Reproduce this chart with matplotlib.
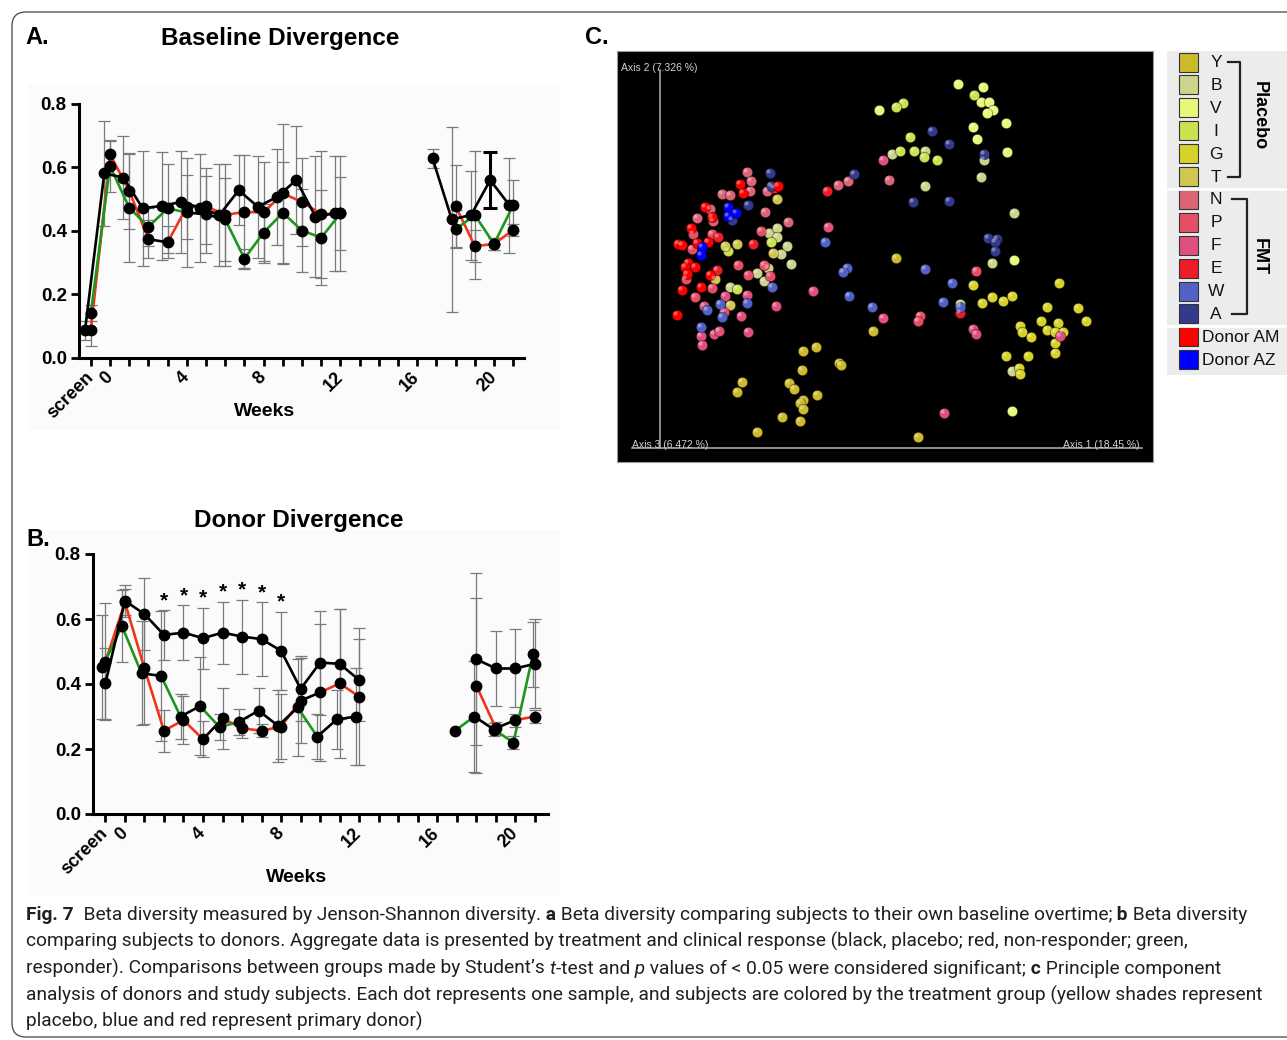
import numpy as np
import matplotlib.pyplot as plt
from matplotlib.patches import Rectangle, FancyBboxPatch
from matplotlib.collections import LineCollection
from matplotlib.transforms import IdentityTransform

nan = np.nan
W, H = 1287, 1040

plt.rcParams['font.family'] = ['Liberation Sans', 'DejaVu Sans']

# time axis (weeks)
weeks = list(range(-1, 13))
late_weeks = [17, 18, 19, 20, 21]
tick_weeks = list(range(-1, 22))
tick_names = {-1: 'screen', 0: '0', 4: '4', 8: '8', 12: '12', 16: '16', 20: '20'}
y_ticks = [0.0, 0.2, 0.4, 0.6, 0.8]

# A. Baseline divergence
a_placebo = [0.087, 0.580, 0.567, 0.470, 0.478, 0.490, 0.472, 0.449, 0.527, 0.475, 0.506, 0.559, 0.444, 0.454]
a_placebo_err = [0.03, 0.165, 0.13, 0.18, 0.17, 0.16, 0.17, 0.16, 0.11, 0.16, 0.15, 0.17, 0.19, 0.18]
a_nonresp = [0.087, 0.640, 0.525, 0.373, 0.363, 0.475, 0.477, 0.449, 0.459, 0.457, 0.517, 0.490, 0.452, 0.454]
a_nonresp_err = [0.05, 0.045, 0.12, 0.06, 0.05, 0.10, 0.12, 0.16, 0.18, 0.16, 0.22, 0.14, 0.20, 0.115]
a_resp = [0.140, 0.603, 0.472, 0.412, 0.470, 0.457, 0.451, 0.435, 0.312, 0.394, 0.456, 0.400, 0.378, 0.454]
a_resp_err = [0.025, 0.08, 0.17, 0.06, 0.14, 0.17, 0.12, 0.13, 0.03, 0.09, 0.16, 0.13, 0.15, 0.18]

a_placebo_late = [0.627, 0.435, 0.449, 0.559, 0.480]
a_placebo_late_err = [0.031, 0.29, 0.14, 0.087, 0.15]
a_nonresp_late = [nan, 0.477, 0.351, 0.358, 0.402]
a_nonresp_late_err = [nan, 0.13, 0.05, 0.02, 0.02]
a_resp_late = [nan, 0.404, 0.449, 0.358, 0.480]
a_resp_late_err = [nan, 0.06, 0.20, 0.02, 0.08]

# B. Donor divergence
b_placebo = [0.402, 0.656, 0.615, 0.551, 0.558, 0.541, 0.558, 0.546, 0.538, 0.502, 0.385, 0.466, 0.462, 0.412]
b_placebo_err = [0.11, 0.05, 0.11, 0.077, 0.085, 0.094, 0.095, 0.114, 0.113, 0.121, 0.10, 0.16, 0.17, 0.125]
b_nonresp = [0.469, 0.651, 0.448, 0.256, 0.289, 0.230, 0.294, 0.264, 0.256, 0.269, 0.349, 0.374, 0.402, 0.361]
b_nonresp_err = [0.18, 0.04, 0.17, 0.065, 0.075, 0.055, 0.095, 0.03, 0.02, 0.10, 0.13, 0.21, 0.23, 0.21]
b_resp = [0.453, 0.578, 0.433, 0.425, 0.300, 0.332, 0.267, 0.284, 0.318, 0.271, 0.328, 0.238, 0.291, 0.300]
b_resp_err = [0.16, 0.11, 0.16, 0.20, 0.07, 0.15, 0.04, 0.04, 0.07, 0.11, 0.15, 0.07, 0.09, 0.15]

b_placebo_late = [nan, 0.476, 0.448, 0.448, 0.462]
b_placebo_late_err = [nan, 0.265, 0.116, 0.12, 0.137]
b_nonresp_late = [nan, 0.395, 0.264, 0.289, 0.300]
b_nonresp_late_err = [nan, 0.27, 0.02, 0.02, 0.02]
b_resp_late = [0.256, 0.300, 0.260, 0.220, 0.491]
b_resp_late_err = [nan, 0.17, 0.02, 0.02, 0.10]

b_sig_weeks = [2, 3, 4, 5, 6, 7, 8]

# C. PCoA (axis 1 / axis 2 scores)
Y_x = [0.143, 0.156, 0.179, 0.181, 0.142, 0.082, 0.077, 0.129, 0.134, 0.157, 0.143, 0.140, 0.143, 0.122, 0.140, 0.097, 0.213, 0.258, 0.236]
Y_y = [0.097, 0.101, 0.085, 0.083, 0.078, 0.066, 0.056, 0.065, 0.059, 0.053, 0.048, 0.045, 0.039, 0.031, 0.027, 0.016, 0.117, 0.011, 0.190]
B_x = [0.232, 0.265, 0.324, 0.321, 0.354, 0.265, 0.332, 0.300, 0.352, 0.109, 0.117, 0.117, 0.127, 0.121, 0.131, 0.108, 0.097, 0.104, 0.070]
B_y = [0.294, 0.297, 0.288, 0.271, 0.235, 0.262, 0.185, 0.144, 0.077, 0.215, 0.220, 0.211, 0.202, 0.194, 0.184, 0.180, 0.175, 0.167, 0.161]
V_x = [0.298, 0.323, 0.321, 0.329, 0.333, 0.327, 0.346, 0.313, 0.317, 0.347, 0.219, 0.354, 0.352]
V_y = [0.364, 0.361, 0.346, 0.346, 0.338, 0.335, 0.325, 0.321, 0.309, 0.296, 0.338, 0.188, 0.037]
I_x = [0.314, 0.250, 0.243, 0.236, 0.240, 0.254, 0.264, 0.277, 0.111, 0.068, 0.077]
I_y = [0.353, 0.311, 0.345, 0.341, 0.297, 0.297, 0.291, 0.288, 0.206, 0.197, 0.159]
G_x = [0.313, 0.322, 0.332, 0.343, 0.352, 0.399, 0.387, 0.418, 0.426, 0.381, 0.387, 0.398,
       0.395, 0.403, 0.360, 0.362, 0.371, 0.395, 0.395, 0.346, 0.368, 0.359, 0.360]
G_y = [0.163, 0.145, 0.151, 0.147, 0.152, 0.165, 0.141, 0.140, 0.127, 0.127, 0.118, 0.125,
       0.116, 0.116, 0.122, 0.116, 0.111, 0.105, 0.095, 0.092, 0.092, 0.080, 0.074]
T_x = [0.117, 0.077, 0.065, 0.113, 0.055, 0.070]
T_y = [0.249, 0.204, 0.202, 0.195, 0.169, 0.143]
N_x = [0.087, 0.091, 0.090, 0.062, 0.070, 0.107, 0.050, 0.037, 0.053, 0.105, 0.128, 0.188, 0.178, 0.229]
N_y = [0.276, 0.267, 0.257, 0.254, 0.253, 0.257, 0.239, 0.230, 0.227, 0.236, 0.226, 0.267, 0.263, 0.268]
P_x = [0.033, 0.052, 0.032, 0.101, 0.026, 0.078, 0.104, 0.088, 0.110, 0.052, 0.035, 0.316, 0.260, 0.258]
P_y = [0.214, 0.214, 0.199, 0.217, 0.169, 0.183, 0.183, 0.173, 0.172, 0.160, 0.151, 0.177, 0.132, 0.127]
F_x = [0.065, 0.087, 0.044, 0.116, 0.064, 0.081, 0.041, 0.042, 0.054, 0.059, 0.088,
       0.223, 0.168, 0.153, 0.223, 0.313, 0.316, 0.284, 0.400]
F_y = [0.152, 0.153, 0.142, 0.142, 0.136, 0.132, 0.112, 0.103, 0.114, 0.117, 0.116,
       0.288, 0.221, 0.157, 0.130, 0.119, 0.114, 0.035, 0.112]
E_x = [0.167, 0.300, 0.093, 0.058, 0.057, 0.114]
E_y = [0.257, 0.135, 0.204, 0.211, 0.178, 0.260]
W_x = [0.047, 0.060, 0.087, 0.062, 0.041, 0.112, 0.165, 0.187, 0.183, 0.189, 0.212, 0.265, 0.292, 0.283, 0.300]
W_y = [0.138, 0.144, 0.145, 0.131, 0.121, 0.161, 0.206, 0.180, 0.176, 0.152, 0.141, 0.179, 0.165, 0.146, 0.141]
A_x = [0.110, 0.111, 0.072, 0.088, 0.194, 0.324, 0.272, 0.289, 0.253, 0.289, 0.328, 0.337, 0.335, 0.335]
A_y = [0.275, 0.262, 0.228, 0.243, 0.274, 0.294, 0.317, 0.304, 0.246, 0.247, 0.210, 0.209, 0.206, 0.197]
AM_x = [0.080, 0.083, 0.118, 0.045, 0.052, 0.031, 0.048, 0.037, 0.018, 0.022, 0.028, 0.025, 0.035, 0.027, 0.050, 0.041, 0.022, 0.017]
AM_y = [0.264, 0.255, 0.262, 0.241, 0.231, 0.220, 0.206, 0.205, 0.204, 0.203, 0.185, 0.181, 0.181, 0.174, 0.173, 0.161, 0.158, 0.133]
AZ_x = [0.068, 0.076, 0.068, 0.042, 0.041]
AZ_y = [0.241, 0.235, 0.232, 0.201, 0.193]

legend_labels = ['Y', 'B', 'V', 'I', 'G', 'T', 'N', 'P', 'F', 'E', 'W', 'A', 'Donor AM', 'Donor AZ']
legend_colors = ['#cdb92c', '#ccd38a', '#e8f77a', '#cbe14f', '#d6d22a', '#d2c653',
                 '#db6577', '#e74f68', '#e04f7e', '#ec1c2a', '#5261c6', '#333a8e', '#ff0000', '#0000ff']

RED = '#f2341c'
GREEN = '#1d961d'
ERR = '#7a7a7a'


def px_box(x0, y0, x1, y1):
    return [x0 / W, 1 - y1 / H, (x1 - x0) / W, (y1 - y0) / H]


def draw_group(ax, wk, vals, errs, color, dx=0.0, black_from=(), bold_err_week=None):
    x = np.asarray(wk, float) + dx
    y = np.asarray(vals, float)
    e = np.asarray(errs, float)
    ax.errorbar(x, y, yerr=e, fmt='none', ecolor=ERR, elinewidth=0.9,
                capsize=4, capthick=0.9, zorder=1)
    if bold_err_week is not None:
        i = list(wk).index(bold_err_week)
        ax.errorbar(x[i], y[i], yerr=e[i], fmt='none', ecolor='black',
                    elinewidth=2.2, capsize=5, capthick=2.2, zorder=1.5)
    segs, cols = [], []
    for i in range(len(x) - 1):
        if np.isnan(y[i]) or np.isnan(y[i + 1]):
            continue
        segs.append([(x[i], y[i]), (x[i + 1], y[i + 1])])
        cols.append('black' if wk[i] in black_from else color)
    ax.add_collection(LineCollection(segs, colors=cols, linewidths=1.9, zorder=2))
    ax.plot(x, y, 'o', color='black', ms=7.5, zorder=3, clip_on=False)


def style_time_axis(ax, xlim):
    ax.set_xlim(*xlim)
    ax.set_ylim(0, 0.8)
    ax.patch.set_visible(False)
    for s in ('top', 'right'):
        ax.spines[s].set_visible(False)
    for s in ('left', 'bottom'):
        ax.spines[s].set_linewidth(2.2)
    ax.set_yticks(y_ticks)
    ax.set_yticklabels([f'{v:.1f}' for v in y_ticks], fontsize=13.5, fontweight='bold')
    ax.set_xticks(tick_weeks)
    ax.set_xticklabels([tick_names.get(w, '') for w in tick_weeks], fontsize=13,
                       fontweight='bold', rotation=45, ha='right', va='center',
                       rotation_mode='anchor')
    ax.tick_params(direction='out', length=6, width=2, pad=3, colors='black')
    ax.tick_params(axis='x', pad=6)


fig = plt.figure(figsize=(W / 100, H / 100), dpi=100)
fig.patch.set_facecolor('white')

# outer rounded frame
fig.add_artist(FancyBboxPatch((12, 3), 1320, 1025, boxstyle='round,pad=0,rounding_size=14',
                              transform=IdentityTransform(), fill=False,
                              edgecolor='#555555', lw=1))

# faint panel backgrounds
fig.add_artist(Rectangle((28 / W, 1 - 430 / H), 532 / W, 345 / H, transform=fig.transFigure,
                         facecolor='#fbfbfb', edgecolor='none', zorder=-5))
fig.add_artist(Rectangle((28 / W, 1 - 895 / H), 532 / W, 365 / H, transform=fig.transFigure,
                         facecolor='#fbfbfb', edgecolor='none', zorder=-5))

# ---- panel A ----
axA = fig.add_axes(px_box(79.3, 103.5, 524, 357.7))
draw_group(axA, weeks, a_nonresp, a_nonresp_err, RED, black_from=(2,))
draw_group(axA, weeks, a_resp, a_resp_err, GREEN, black_from=(4, 5))
draw_group(axA, weeks, a_placebo, a_placebo_err, 'black', dx=-0.3)
draw_group(axA, late_weeks, a_nonresp_late, a_nonresp_late_err, RED)
draw_group(axA, late_weeks, a_resp_late, a_resp_late_err, GREEN)
draw_group(axA, late_weeks, a_placebo_late, a_placebo_late_err, 'black', dx=-0.2, bold_err_week=20)
style_time_axis(axA, (-1.60, 21.56))

fig.text(25 / W, 1 - 38 / H, 'A.', fontsize=17, fontweight='bold', va='center')
fig.text(280 / W, 1 - 38 / H, 'Baseline Divergence', fontsize=17.5, fontweight='bold',
         ha='center', va='center')
fig.text(265 / W, 1 - 412 / H, 'Weeks', fontsize=14, fontweight='bold', ha='center', va='center')

# ---- panel B ----
axB = fig.add_axes(px_box(93.3, 554, 548, 814))
draw_group(axB, weeks, b_nonresp, b_nonresp_err, RED, black_from=(4, 9))
draw_group(axB, weeks, b_resp, b_resp_err, GREEN, dx=-0.15, black_from=(1, 3, 6, 7, 8, 10, 11))
draw_group(axB, weeks, b_placebo, b_placebo_err, 'black')
draw_group(axB, late_weeks, b_nonresp_late, b_nonresp_late_err, RED, black_from=(19,))
draw_group(axB, late_weeks, b_resp_late, b_resp_late_err, GREEN, dx=-0.1, black_from=(18,))
draw_group(axB, late_weeks, b_placebo_late, b_placebo_late_err, 'black')
for w in b_sig_weeks:
    i = weeks.index(w)
    top = max(b_placebo[i] + b_placebo_err[i], b_resp[i] + b_resp_err[i])
    axB.text(w, top + 0.012, '*', fontsize=15, fontweight='bold',
             ha='center', va='baseline')
style_time_axis(axB, (-1.62, 21.67))

fig.text(26 / W, 1 - 540 / H, 'B.', fontsize=17, fontweight='bold', va='center')
fig.text(299 / W, 1 - 521 / H, 'Donor Divergence', fontsize=17.5, fontweight='bold',
         ha='center', va='center')
fig.text(297 / W, 1 - 877 / H, 'Weeks', fontsize=14, fontweight='bold', ha='center', va='center')

# ---- panel C ----
fig.text(585 / W, 1 - 38 / H, 'C.', fontsize=17, fontweight='bold', va='center')
axC = fig.add_axes(px_box(617, 51, 1153, 462))
axC.set_facecolor('black')
axC.set_xlim(-0.043, 0.493)
axC.set_ylim(-0.014, 0.397)
axC.set_xticks([])
axC.set_yticks([])
for s in axC.spines.values():
    s.set_color('#9a9a9a')
    s.set_linewidth(0.8)
axC.plot([0, 0], [0, 0.378], color='#b4b4b4', lw=1.1, zorder=1)
axC.plot([-0.028, 0.482], [0, 0], color='#b4b4b4', lw=1.1, zorder=1)
axC.text(-0.039, 0.380, 'Axis 2 (7.326 %)', color='#d0d0d0', fontsize=7.5, va='center')
axC.text(-0.028, 0.003, 'Axis 3 (6.472 %)', color='#d0d0d0', fontsize=7.5, va='center')
axC.text(0.480, 0.003, 'Axis 1 (18.45 %)', color='#d0d0d0', fontsize=7.5, va='center', ha='right')

pcoa_sets = [(Y_x, Y_y), (B_x, B_y), (V_x, V_y), (I_x, I_y), (G_x, G_y), (T_x, T_y),
             (N_x, N_y), (P_x, P_y), (F_x, F_y), (E_x, E_y), (W_x, W_y), (A_x, A_y),
             (AM_x, AM_y), (AZ_x, AZ_y)]
for (xs, ys), col in zip(pcoa_sets, legend_colors):
    xs = np.asarray(xs)
    ys = np.asarray(ys)
    axC.scatter(xs, ys, s=56, c=col, edgecolors=(0, 0, 0, 0.45), linewidths=0.6, zorder=3)
    axC.scatter(xs - 0.0022, ys + 0.0022, s=9, c='white', alpha=0.35, linewidths=0, zorder=4)

# legend for C
axL = fig.add_axes(px_box(1160, 45, 1287, 380))
axL.set_xlim(1160, 1287)
axL.set_ylim(380, 45)
axL.axis('off')
axL.add_patch(Rectangle((1167, 51), 125, 324, facecolor='#ececec', edgecolor='none'))
for yy in (189, 326):
    axL.plot([1167, 1287], [yy, yy], color='white', lw=2)
row0, row_step = 62, 22.9
for i, (lab, col) in enumerate(zip(legend_labels, legend_colors)):
    yc = row0 + i * row_step
    axL.add_patch(Rectangle((1179, yc - 9.5), 19, 19, facecolor=col, edgecolor='#333333', lw=0.8))
    if len(lab) == 1:
        axL.text(1216, yc + 0.5, lab, fontsize=12.5, ha='center', va='center', color='#111111')
    else:
        axL.text(1202, yc + 0.5, lab, fontsize=12.5, ha='left', va='center', color='#111111')
# group brackets
for x_v, x_t, top_i, bot_i, name, yc_txt in ((1240, 1228, 0, 5, 'Placebo', 116),
                                              (1247, 1232, 6, 11, 'FMT', 257)):
    yt = row0 + top_i * row_step
    yb = row0 + bot_i * row_step
    axL.plot([x_t, x_v, x_v, x_t], [yt, yt, yb, yb], color='#222222', lw=1.6)
    axL.text(1259, yc_txt, name, fontsize=13, fontweight='bold', rotation=-90,
             ha='center', va='center')

# ---- caption ----
caption_lines = [
    [('Fig. 7', 'b'), ('  Beta diversity measured by Jenson-Shannon diversity.', 'n'), (' a', 'b'),
     (' Beta diversity comparing subjects to their own baseline overtime;', 'n'), (' b', 'b'),
     (' Beta diversity', 'n')],
    [('comparing subjects to donors. Aggregate data is presented by treatment and clinical response '
      '(black, placebo; red, non-responder; green,', 'n')],
    [('responder). Comparisons between groups made by Student\u2019s ', 'n'), ('t', 'i'),
     ('-test and', 'n'), (' p', 'i'), (' values of < 0.05 were considered significant;', 'n'),
     (' c', 'b'), (' Principle component', 'n')],
    [('analysis of donors and study subjects. Each dot represents one sample, and subjects are colored '
      'by the treatment group (yellow shades represent', 'n')],
    [('placebo, blue and red represent primary donor)', 'n')],
]
caption_baselines = [920, 947, 974, 1001, 1027]

renderer = fig.canvas.get_renderer()


def add_part(x, y, txt, style, size):
    return fig.text(x, y, txt, transform=IdentityTransform(), fontsize=size, family='Roboto',
                    fontweight='bold' if style == 'b' else 'normal',
                    fontstyle='italic' if style == 'i' else 'normal',
                    va='baseline', color='#231f20')


probe = add_part(0, 0, caption_lines[1][0][0], 'n', 12)
cap_size = 12 * 1160 / probe.get_window_extent(renderer).width
probe.remove()

for parts, base in zip(caption_lines, caption_baselines):
    x = 26
    for txt, style in parts:
        t = add_part(x, H - base, txt, style, cap_size)
        x += t.get_window_extent(renderer).width

fig.savefig('out.png', dpi=100)
